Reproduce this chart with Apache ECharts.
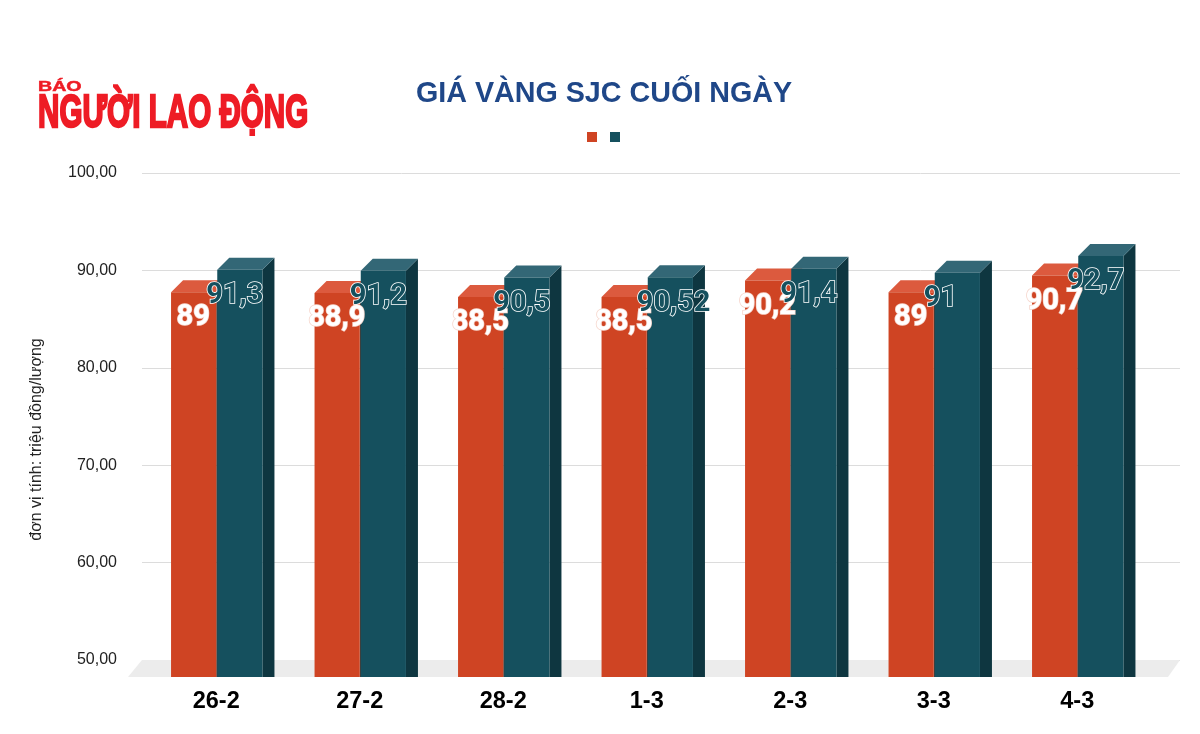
<!DOCTYPE html>
<html><head><meta charset="utf-8">
<style>html,body{margin:0;padding:0;background:#fff}#c{width:1200px;height:734px}</style>
<script src="https://cdn.jsdelivr.net/npm/echarts@6/dist/echarts.min.js"></script>
</head><body><div id="c"></div>
<script>
const categories = ['26-2','27-2','28-2','1-3','2-3','3-3','4-3'];
const buyValues = [89, 88.9, 88.5, 88.5, 90.2, 89, 90.7];
const sellValues = [91.3, 91.2, 90.5, 90.52, 91.4, 91, 92.7];
const yTicks = [50, 60, 70, 80, 90, 100];

const DEPTH = 12, DROP = 17;
function fmt(v){ return String(v).replace('.', ','); }
function poly(points, fill, z2){
  return {type:'polygon', shape:{points}, style:{fill}, z2, silent:true};
}
function barRenderer(opts){
  return function(params, api){
    const i = api.value(0), v = api.value(1);
    const top = api.coord([i, v]);
    const base = api.coord([i, 50]);
    const band = api.size([1, 0])[0];
    const w = band * 0.315;
    const x0 = top[0] + opts.side * w + (opts.side === 0 ? 1 : 0);
    const x1 = x0 + w;
    const yT = top[1] + DEPTH, yB = base[1] + DROP;
    return {type:'group', children:[
      poly([[x1,yT],[x1+DEPTH,yT-DEPTH],[x1+DEPTH,yB],[x1,yB]], opts.sideColor, opts.z),
      poly([[x0,yT],[x0+DEPTH,yT-DEPTH],[x1+DEPTH,yT-DEPTH],[x1,yT]], opts.topColor, opts.z),
      poly([[x0,yT],[x1,yT],[x1,yB],[x0,yB]], opts.frontColor, opts.z),
      {type:'text', z2:opts.z + 100, silent:true, style:{
        text: fmt(v), x: top[0] + opts.labelDx, y: top[1] + opts.labelDy, align:opts.labelAlign, verticalAlign:'middle',
        font:'700 29px Roboto', fill:opts.labelFill, stroke:opts.labelStroke, lineWidth:opts.labelLine
      }}
    ]};
  };
}
function floorRenderer(params, api){
  const cs = params.coordSys;
  const y = api.coord([0, 50])[1];
  return poly([[cs.x, y],[cs.x + cs.width, y],[cs.x + cs.width - DEPTH, y + DROP],[cs.x - 14, y + DROP]], '#ececec', 0);
}

const chart = echarts.init(document.getElementById('c'), null, {renderer:'canvas'});
chart.setOption({
  backgroundColor:'#fff',
  animation:false,
  title:{text:'GIÁ VÀNG SJC CUỐI NGÀY', left:599, top:75, textAlign:'center',
    textStyle:{fontFamily:'Liberation Sans', fontWeight:700, fontSize:28.7, color:'#1f4788'}},
  legend:{left:582, top:127, itemWidth:10, itemHeight:10, itemGap:13, selectedMode:false,
    formatter:function(){ return ''; }, textStyle:{fontSize:1, padding:0},
    data:[{name:'Giá mua', icon:'rect', itemStyle:{color:'#cf4423'}},
          {name:'Giá bán', icon:'rect', itemStyle:{color:'#15505e'}}]},
  grid:[
    {left:142, width:1038, top:173, height:487},
    {left:144.5, width:1004.5, top:173, height:487}
  ],
  xAxis:[
    {type:'category', gridIndex:0, data:categories, show:false},
    {type:'category', gridIndex:1, data:categories, axisLine:{show:false}, axisTick:{show:false},
      axisLabel:{margin:30, fontFamily:'Liberation Sans', fontWeight:700, fontSize:23.5, color:'#000'}}
  ],
  yAxis:[
    {type:'value', gridIndex:0, min:50, max:100, interval:10,
      axisLine:{show:false}, axisTick:{show:false},
      axisLabel:{margin:25, fontFamily:'Liberation Sans', fontSize:16, color:'#222',
        formatter:function(v){ return v.toFixed(2).replace('.', ','); }},
      splitLine:{lineStyle:{color:'#dcdcdc', width:1}},
      name:'đơn vị tính: triệu đồng/lượng', nameLocation:'middle', nameGap:97, nameMoveOverlap:false,
      nameTextStyle:{fontFamily:'Liberation Sans', fontSize:16, color:'#222', padding:[0,46,0,0]}},
    {type:'value', gridIndex:1, min:50, max:100, interval:10, show:false, splitLine:{show:false}}
  ],
  graphic:[
    {type:'text', x:38, y:87, scaleX:1.4, z:10, style:{text:'BÁO', font:'700 14px "Liberation Sans"', fill:'#ee1c25', stroke:'#ee1c25', lineWidth:0.5, verticalAlign:'middle'}},
    {type:'text', x:38, y:114, scaleX:0.63, z:10, style:{text:'NGƯỜI LAO ĐỘNG', font:'700 47px "Liberation Sans"', fill:'#ee1c25', stroke:'#ee1c25', lineWidth:2.4, verticalAlign:'middle'}}
  ],
  series:[
    {type:'custom', name:'Nền', xAxisIndex:0, yAxisIndex:0, data:[[0,50]], clip:false, z:1, renderItem:floorRenderer, silent:true},
    {type:'custom', name:'Giá mua', xAxisIndex:1, yAxisIndex:1, clip:false, z:2, silent:true,
      data:buyValues.map((v,i)=>[i,v]), encode:{x:0,y:1},
      renderItem:barRenderer({side:-1, z:1, frontColor:'#cf4423', topColor:'#dc5a3e', sideColor:'#4a3a34',
        labelDx:-23, labelDy:38, labelAlign:'center', labelFill:'#fff', labelStroke:'#f6d5cb', labelLine:1.5})},
    {type:'custom', name:'Giá bán', xAxisIndex:1, yAxisIndex:1, clip:false, z:2, silent:true,
      data:sellValues.map((v,i)=>[i,v]), encode:{x:0,y:1},
      renderItem:barRenderer({side:0, z:2, frontColor:'#15505e', topColor:'#336776', sideColor:'#0e3640',
        labelDx:-10, labelDy:38, labelAlign:'left', labelFill:'#15505e', labelStroke:'#ffffff', labelLine:1.6})}
  ]
});
</script></body></html>
